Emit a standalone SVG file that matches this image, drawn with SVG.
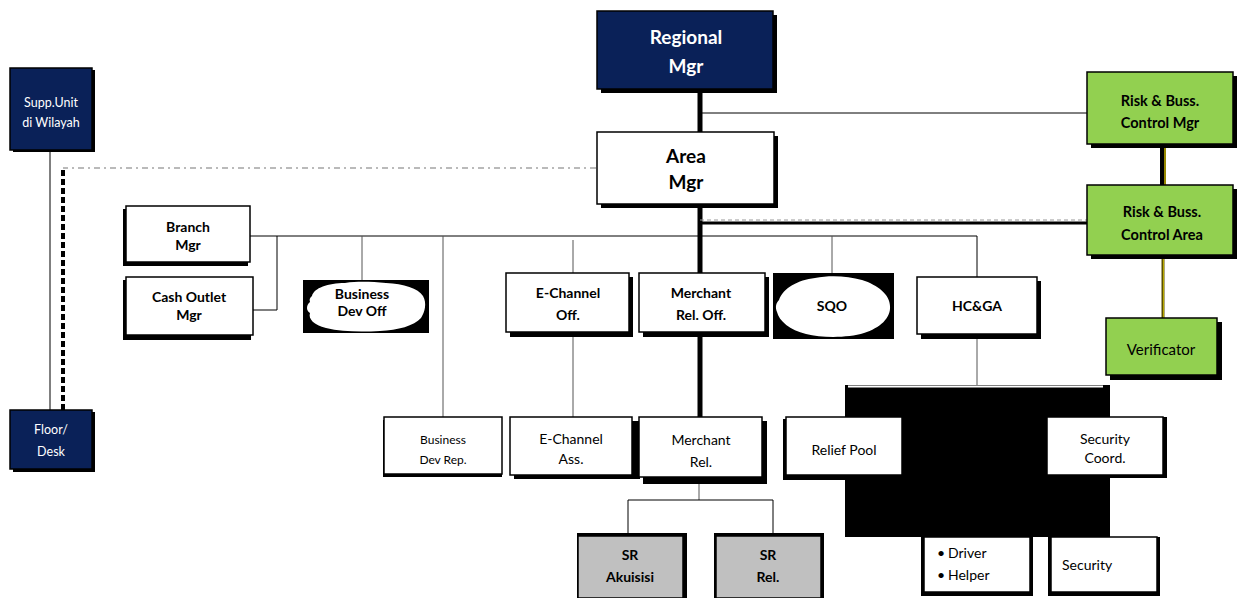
<svg xmlns="http://www.w3.org/2000/svg" width="1245" height="598" viewBox="0 0 1245 598">
<style>
text{font-family:Lato,"Open Sans","Liberation Sans",sans-serif;text-anchor:middle;fill:#000}
.b{font-weight:bold}
.w{fill:#fff}
.box{fill:#fff;stroke:#000;stroke-width:1.5}
.navy{fill:#0a2158;stroke:#000;stroke-width:1.5}
.green{fill:#92d050;stroke:#000;stroke-width:1.5}
.gray{fill:#c0c0c0;stroke:#000;stroke-width:1.5}
.sh{fill:#000}
.ln{fill:none;stroke:#000;stroke-width:1}
.lg{fill:none;stroke:#555;stroke-width:1}
.thick{fill:none;stroke:#000;stroke-width:5}
</style>
<g id="connectors">
<line class="thick" x1="700" y1="90" x2="700" y2="418"/>
<line class="ln" x1="700" y1="113" x2="1087" y2="113"/>
<line x1="700" y1="220" x2="1087" y2="220" stroke="#999" stroke-width="1" stroke-dasharray="4,3"/>
<line x1="700" y1="223" x2="1087" y2="223" stroke="#000" stroke-width="3"/>
<line x1="596" y1="168" x2="63" y2="168" stroke="#777" stroke-width="1.2" stroke-dasharray="6,4,2,4"/>
<line x1="63" y1="170" x2="63" y2="410" stroke="#000" stroke-width="4" stroke-dasharray="6,3"/>
<line class="ln" x1="50" y1="150" x2="50" y2="410"/>
<line class="ln" x1="250" y1="236" x2="977" y2="236"/>
<polyline class="ln" points="277,236 277,310 253,310"/>
<line class="lg" x1="362" y1="236" x2="362" y2="281"/>
<line class="lg" x1="443" y1="236" x2="443" y2="417"/>
<line class="lg" x1="573" y1="240" x2="573" y2="273"/>
<line class="lg" x1="573" y1="335" x2="573" y2="417"/>
<line class="lg" x1="832" y1="236" x2="832" y2="273"/>
<polyline class="ln" points="977,236 977,277"/>
<line class="lg" x1="977" y1="337" x2="977" y2="385"/>
<line class="lg" x1="699" y1="483" x2="699" y2="500"/>
<polyline class="ln" points="628,533 628,500 773,500 773,533"/>
<line x1="1163" y1="145" x2="1163" y2="185" stroke="#000" stroke-width="6"/>
<line x1="1165" y1="145" x2="1165" y2="185" stroke="#c8b400" stroke-width="1.5"/>
<line x1="1163" y1="257" x2="1163" y2="318" stroke="#5a5000" stroke-width="3"/>
<line x1="1163.5" y1="257" x2="1163.5" y2="318" stroke="#b8a800" stroke-width="1"/>
</g>
<g id="hcga-block">
<rect x="845" y="385" width="265" height="152" fill="#000"/>
<rect x="848" y="385.5" width="255" height="2" fill="#fff"/>
</g>
<g id="regional-mgr">
<rect class="sh" x="601" y="15" width="176" height="78"/>
<rect class="navy" x="597" y="11" width="176" height="78"/>
<text class="b w" x="686" y="44" font-size="19">Regional</text>
<text class="b w" x="686" y="73" font-size="19">Mgr</text>
</g>
<g id="area-mgr">
<rect class="sh" x="601" y="136" width="177" height="72"/>
<rect class="box" x="597" y="132" width="177" height="72"/>
<text class="b" x="686" y="163" font-size="19">Area</text>
<text class="b" x="686" y="189" font-size="19">Mgr</text>
</g>
<g id="supp-unit">
<rect class="sh" x="13" y="70" width="82" height="82"/>
<rect class="navy" x="10" y="68" width="82" height="82"/>
<text class="w" x="51" y="107" font-size="12.5">Supp.Unit</text>
<text class="w" x="51" y="127" font-size="12.5">di Wilayah</text>
</g>
<g id="floor-desk">
<rect class="sh" x="13" y="412" width="82" height="60"/>
<rect class="navy" x="10" y="410" width="82" height="59"/>
<text class="w" x="51" y="434" font-size="12.5">Floor/</text>
<text class="w" x="51" y="456" font-size="12.5">Desk</text>
</g>
<g id="branch-mgr">
<rect class="sh" x="123" y="209" width="125" height="57"/>
<rect class="box" x="126" y="206" width="124" height="56"/>
<text class="b" x="188" y="232" font-size="14">Branch</text>
<text class="b" x="188" y="250" font-size="14">Mgr</text>
</g>
<g id="cash-outlet-mgr">
<rect class="sh" x="123" y="280" width="128" height="60"/>
<rect class="box" x="126" y="277" width="127" height="58"/>
<text class="b" x="189" y="302" font-size="14">Cash Outlet</text>
<text class="b" x="189" y="320" font-size="14">Mgr</text>
</g>
<g id="business-dev-off">
<rect class="sh" x="303" y="280" width="126" height="53"/>
<path fill="#fff" d="M312,296 C314,288 328,283 345,283 C360,281 372,282 386,283 C404,284 418,288 423,296 C427,303 425,312 421,318 C414,326 398,330 380,331 C362,332 342,332 326,328 C314,325 308,319 310,313 C306,311 306,305 310,302 C309,299 310,298 312,296 Z"/>
<text class="b" x="362" y="299" font-size="14">Business</text>
<text class="b" x="362" y="316" font-size="14">Dev Off</text>
</g>
<g id="e-channel-off">
<rect class="sh" x="510" y="277" width="123" height="60"/>
<rect class="box" x="506" y="273" width="123" height="59"/>
<text class="b" x="568" y="298" font-size="14">E-Channel</text>
<text class="b" x="568" y="320" font-size="14">Off.</text>
</g>
<g id="merchant-rel-off">
<rect class="sh" x="643" y="277" width="126" height="60"/>
<rect class="box" x="639" y="273" width="126" height="59"/>
<text class="b" x="701" y="298" font-size="14">Merchant</text>
<text class="b" x="701" y="320" font-size="14">Rel. Off.</text>
</g>
<g id="sqo">
<rect class="sh" x="773" y="273" width="121" height="66"/>
<path fill="#fff" d="M779,300 C783,288 798,280 815,278 C830,275 848,276 862,280 C878,285 890,295 890,306 C891,318 880,328 864,333 C848,338 822,338 806,334 C790,330 779,321 777,312 C775,307 776,303 779,300 Z"/>
<text class="b" x="832" y="311" font-size="14">SQO</text>
</g>
<g id="hc-ga">
<rect class="sh" x="921" y="281" width="120" height="58"/>
<rect class="box" x="917" y="277" width="120" height="57"/>
<text class="b" x="977" y="311" font-size="14">HC&amp;GA</text>
</g>
<g id="risk-mgr">
<rect class="sh" x="1091" y="76" width="146" height="72"/>
<rect class="green" x="1087" y="72" width="146" height="72"/>
<text class="b" x="1160" y="106" font-size="14.5">Risk &amp; Buss.</text>
<text class="b" x="1160" y="128" font-size="14.5">Control Mgr</text>
</g>
<g id="risk-area">
<rect class="sh" x="1091" y="189" width="146" height="70"/>
<rect class="green" x="1087" y="185" width="146" height="70"/>
<text class="b" x="1162" y="217" font-size="14.5">Risk &amp; Buss.</text>
<text class="b" x="1162" y="240" font-size="14.5">Control Area</text>
</g>
<g id="verificator">
<rect class="sh" x="1110" y="322" width="112" height="58"/>
<rect class="green" x="1106" y="318" width="111" height="57"/>
<text x="1161" y="355" font-size="15">Verificator</text>
</g>
<g id="business-dev-rep">
<rect class="sh" x="383" y="420" width="119" height="57"/>
<rect class="box" x="384" y="417" width="118" height="57"/>
<text x="443" y="444" font-size="12">Business</text>
<text x="443" y="464" font-size="12">Dev Rep.</text>
</g>
<g id="e-channel-ass">
<rect class="sh" x="514" y="421" width="126" height="58"/>
<rect class="box" x="510" y="417" width="122" height="58"/>
<text x="571" y="444" font-size="14">E-Channel</text>
<text x="571" y="464" font-size="14">Ass.</text>
</g>
<g id="merchant-rel">
<rect class="sh" x="643" y="421" width="124" height="63"/>
<rect class="box" x="639" y="417" width="123" height="60"/>
<text x="701" y="445" font-size="14">Merchant</text>
<text x="701" y="467" font-size="14">Rel.</text>
</g>
<g id="sr-akuisisi">
<rect class="sh" x="577" y="533" width="110" height="65"/>
<rect class="gray" x="578" y="536" width="105" height="62"/>
<text class="b" x="630" y="560" font-size="14">SR</text>
<text class="b" x="630" y="582" font-size="14">Akuisisi</text>
</g>
<g id="sr-rel">
<rect class="sh" x="714" y="533" width="110" height="65"/>
<rect class="gray" x="716" y="536" width="105" height="62"/>
<text class="b" x="768" y="560" font-size="14">SR</text>
<text class="b" x="768" y="582" font-size="14">Rel.</text>
</g>
<g id="relief-pool">
<rect class="sh" x="783" y="419" width="120" height="61"/>
<rect class="box" x="786" y="417" width="116" height="58"/>
<text x="844" y="455" font-size="14">Relief Pool</text>
</g>
<g id="security-coord">
<rect class="sh" x="1047" y="417" width="120" height="61"/>
<rect class="box" x="1047" y="417" width="116" height="58"/>
<text x="1105" y="444" font-size="14">Security</text>
<text x="1105" y="463" font-size="14">Coord.</text>
</g>
<g id="driver-helper">
<rect class="sh" x="921" y="537" width="112" height="59"/>
<rect class="box" x="924" y="537" width="106" height="55"/>
<text x="941" y="558" font-size="14">•</text>
<text x="941" y="580" font-size="14">•</text>
<text x="948" y="558" font-size="14" style="text-anchor:start">Driver</text>
<text x="948" y="580" font-size="14" style="text-anchor:start">Helper</text>
</g>
<g id="security">
<rect class="sh" x="1048" y="537" width="112" height="59"/>
<rect class="box" x="1051" y="537" width="106" height="55"/>
<text x="1062" y="570" font-size="14" style="text-anchor:start">Security</text>
</g>
</svg>
